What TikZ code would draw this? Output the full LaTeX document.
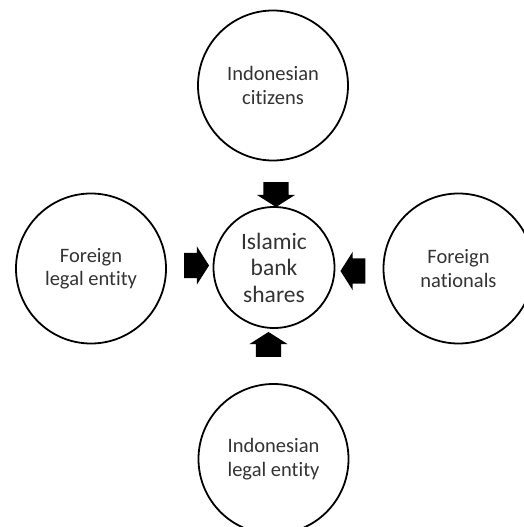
\documentclass[tikz,border=0pt]{standalone}
\usepackage{fontspec}
\setmainfont[Ligatures=NoCommon]{Carlito}
\usetikzlibrary{shapes.arrows}
\begin{document}
\begin{tikzpicture}[x=1pt,y=-1pt,
  circ/.style={circle,draw=black,line width=1.8pt,inner sep=0pt,align=center,text=black!80},
  outer/.style={circ,minimum size=150pt,font=\fontsize{20.5}{23.5}\selectfont},
  blockarrow/.style={single arrow,fill=black,draw=none,inner xsep=0pt,inner ysep=12.5pt,text height=0pt,text depth=0pt,text width=0pt,minimum height=25pt,single arrow head extend=6.5pt,single arrow tip angle=115,single arrow head indent=0pt}]
\useasboundingbox (0,0) rectangle (524,527);
\node[outer] (top) at (273,85.5) {Indonesian\\citizens};
\node[outer] (left) at (91,268.5) {Foreign\\legal entity};
\node[outer] (right) at (458.5,268.5) {Foreign\\nationals};
\node[outer] (bottom) at (273.5,459) {Indonesian\\legal entity};
\node[circ,minimum size=121pt,font=\fontsize{23.5}{26.5}\selectfont] (center) at (274,267.5) {Islamic\\bank\\shares};
\node[blockarrow,rotate=270] (ta) at (276,190.5) {};
\node[blockarrow] (la) at (192.5,265.5) {};
\node[blockarrow,rotate=180] (ra) at (357,271) {};
\node[blockarrow,rotate=90] (ba) at (268.5,348.5) {};
\end{tikzpicture}
\end{document}
